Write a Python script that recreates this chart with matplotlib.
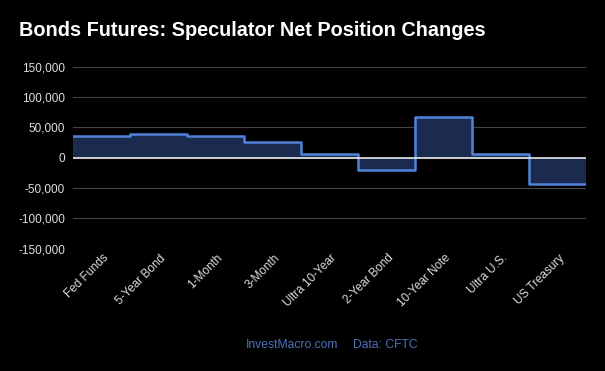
import matplotlib
matplotlib.use("Agg")
import matplotlib.pyplot as plt
import matplotlib.transforms as mtransforms
import numpy as np
from matplotlib.ticker import FuncFormatter, MultipleLocator

categories = ["Fed Funds", "5-Year Bond", "1-Month", "3-Month", "Ultra 10-Year",
              "2-Year Bond", "10-Year Note", "Ultra U.S.", "US Treasury"]
net_change = [35600, 38400, 35600, 25200, 6600, -19800, 67000, 6600, -42900]

title = "Bonds Futures: Speculator Net Position Changes"
footer_site = "InvestMacro.com"
footer_data = "Data: CFTC"

plt.rcParams['font.family'] = ['Liberation Sans', 'DejaVu Sans']

fig = plt.figure(figsize=(6.05, 3.71), dpi=100, facecolor='black')
ax = fig.add_axes([73.3/605, 1-248.7/371, (586-73.3)/605, (248.7-66.7)/371])
ax.set_facecolor('black')

n = len(categories)
x = np.arange(n + 1)
y = np.array(net_change + [net_change[-1]])

ax.fill_between(x, y, 0, step='post', color='#1b2b4f', linewidth=0)
ax.step(x, y, where='post', color='#5283da', linewidth=1.8, solid_joinstyle='round')
ax.axhline(0, color='#e8e8e8', linewidth=1.2, zorder=3)

ax.set_xlim(0, n)
ax.set_ylim(-150000, 150000)
ax.yaxis.set_major_locator(MultipleLocator(50000))
ax.yaxis.set_major_formatter(FuncFormatter(lambda v, p: f"{int(v):,}"))
ax.grid(axis='y', color='#444444', linewidth=0.8)
ax.set_axisbelow(True)

ax.set_xticks(np.arange(n) + 0.5)
ax.set_xticklabels(categories, rotation=45, ha='right', va='center',
                   rotation_mode='anchor', color='#dddddd', fontsize=8.5)
ax.tick_params(axis='x', length=0, pad=7)
ax.tick_params(axis='y', length=0, pad=6, labelcolor='#dddddd', labelsize=8.5)
offset = mtransforms.ScaledTranslation(5/100, 2/100, fig.dpi_scale_trans)
for lbl in ax.get_xticklabels():
    lbl.set_transform(lbl.get_transform() + offset)
for s in ax.spines.values():
    s.set_visible(False)

fig.text(19/605, 1-30/371, title, color='white', fontsize=14.3,
         fontweight='bold', va='center', ha='left')
fig.text(245.5/605, 1-345/371, footer_site, color='#4d70b8', fontsize=8.7,
         va='center', ha='left')
fig.text(352.7/605, 1-345/371, footer_data, color='#4d70b8', fontsize=8.7,
         va='center', ha='left')

fig.savefig('out.png', dpi=100, facecolor='black')
